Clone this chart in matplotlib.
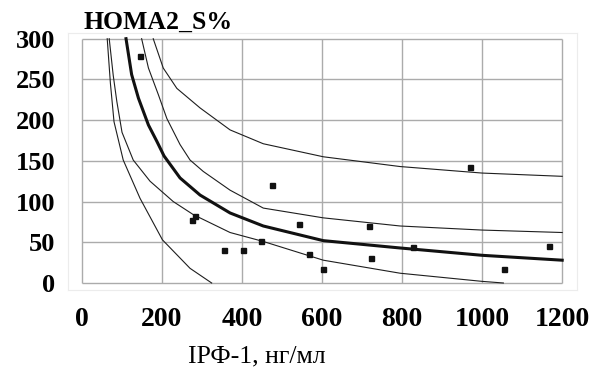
import matplotlib
matplotlib.use("Agg")
import matplotlib.pyplot as plt

# IGF-1 (x) vs HOMA2_S% (y): observed points
pts_x = [145, 276, 282, 355, 402, 447, 474, 542, 567, 603, 716, 722, 828, 970, 1054, 1166]
pts_y = [279, 77, 82, 41, 40, 52, 120, 73, 36, 17, 70, 31, 44, 143, 17, 45]

# regression curve (thick)
fit_x = [110, 124, 141, 166, 187, 205, 245, 295, 370, 453, 603, 795, 1000, 1200]
fit_y = [300, 256, 227, 194, 174, 156, 129, 108, 86, 70, 52, 43, 34, 28]

# confidence band
ci_hi_x = [149, 166, 191, 212, 245, 270, 303, 370, 453, 603, 795, 1000, 1200]
ci_hi_y = [300, 264, 231, 202, 170, 151, 137, 114, 92, 80, 70, 65, 62]
ci_lo_x = [68, 78, 87, 100, 128, 170, 228, 278, 370, 453, 603, 795, 1000, 1053]
ci_lo_y = [300, 255, 223, 185, 151, 125, 100, 84, 62, 51, 28, 12, 2, 0]

# prediction band
pi_hi_x = [178, 203, 237, 295, 370, 453, 603, 795, 1000, 1200]
pi_hi_y = [300, 264, 239, 215, 188, 171, 155, 143, 135, 131]
pi_lo_x = [63, 71, 80, 103, 145, 201, 270, 324]
pi_lo_y = [300, 245, 198, 151, 104, 53, 18, 0]

XTICKS = [0, 200, 400, 600, 800, 1000, 1200]
YTICKS = [0, 50, 100, 150, 200, 250, 300]

SERIF = ["Liberation Serif", "DejaVu Serif"]

fig = plt.figure(figsize=(5.94, 3.72), dpi=100)
ax = fig.add_axes([68 / 594, 1 - 290 / 372, (577 - 68) / 594, (290 - 33) / 372])
ax.set_xlim(-35, 1237)
ax.set_ylim(-8.6, 307)

grid_c = "#ababab"
ax.hlines(YTICKS, 0, 1200, color=grid_c, lw=1.0, zorder=1)
ax.vlines(XTICKS, 0, 300, color=grid_c, lw=1.0, zorder=1)
for s in ax.spines.values():
    s.set_color("#ececec")
    s.set_linewidth(0.8)

line_c = "#1e1e1e"
ax.plot(pi_lo_x, pi_lo_y, color=line_c, lw=0.8, zorder=3)
ax.plot(ci_lo_x, ci_lo_y, color=line_c, lw=0.8, zorder=3)
ax.plot(ci_hi_x, ci_hi_y, color=line_c, lw=0.8, zorder=3)
ax.plot(pi_hi_x, pi_hi_y, color=line_c, lw=0.8, zorder=3)
ax.plot(fit_x, fit_y, color="#111111", lw=2.2, zorder=4)
ax.plot(pts_x, pts_y, ls="none", marker="s", ms=3.6, color="#111111", zorder=5)

ax.set_xticks(XTICKS)
ax.set_yticks(YTICKS)
ax.tick_params(axis="x", length=0, pad=12)
ax.tick_params(axis="y", length=0, pad=9)
for lab in ax.get_xticklabels():
    lab.set_fontfamily(SERIF)
    lab.set_fontweight("bold")
    lab.set_fontsize(20)
for lab in ax.get_yticklabels():
    lab.set_fontfamily(SERIF)
    lab.set_fontweight("bold")
    lab.set_fontsize(19)

fig.text(84 / 594, 1 - 22 / 372, "HOMA2_S%", family=SERIF, weight="bold",
         fontsize=18.5, va="center", ha="left")
fig.text(257 / 594, 1 - 356 / 372, "IРФ-1, нг/мл", family=SERIF,
         fontsize=18.5, va="center", ha="center")

fig.savefig("out.png", dpi=100)
